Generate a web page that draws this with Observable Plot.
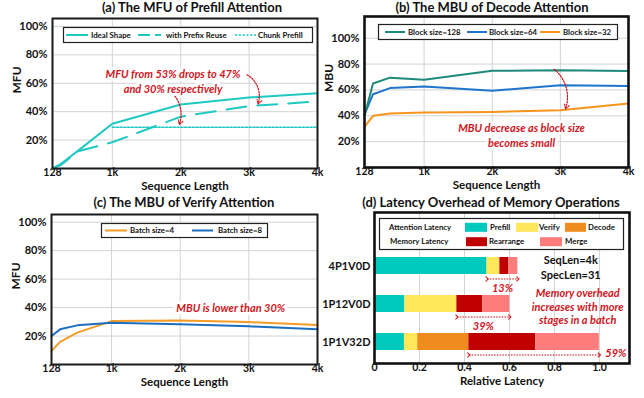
<!DOCTYPE html>
<html><head><meta charset="utf-8">
<script src="https://cdn.jsdelivr.net/npm/d3@7"></script>
<script src="https://cdn.jsdelivr.net/npm/@observablehq/plot@0.6"></script>
<style>
body{margin:0;background:#fff;}
#root{position:relative;width:644px;height:398px;overflow:hidden;font-family:Lato,"Open Sans",sans-serif;color:#111;}
.title{position:absolute;font-weight:bold;font-size:13px;white-space:nowrap;transform:translate(-50%,-50%);line-height:1;}
.panel{position:absolute;}
.legend{position:absolute;}
</style></head>
<body><div id="root"></div>
<script>
// ---------- data ----------
const seqLen = [128, 256, 512, 1024, 2048, 3072, 4096];
const seqTicks = [128, 1024, 2048, 3072, 4096];
const seqTickLabels = ["128", "1k", "2k", "3k", "4k"];
const seqGrid = [1024, 2048, 3072];
const pctTicks = [20, 40, 60, 80, 100];

// (a) MFU of prefill attention (%)
const idealShape = [0, 3.3, 12.6, 31.5, 45, 50, 53];
const prefixReuse = [0, 2.5, 12.2, 18.5, 36.5, 44, 47.2];
const chunkSeqLen = [1024, 2048, 3072, 4096];
const chunkPrefill = [29, 29, 29, 29];

// (b) MBU of decode attention (%)
const block128 = [40, 65, 69.5, 67.8, 74.8, 75.3, 74.6];
const block64 = [41, 56.7, 61.4, 62.6, 59.3, 63.7, 63];
const block32 = [31.5, 40, 41.7, 42.5, 43, 44.3, 49.5];

// (c) MBU of verify attention (%)
const batch4 = [9.6, 15.9, 22.4, 30.5, 31, 29.8, 27.7];
const batch8 = [20, 24.7, 27.5, 29.3, 28.2, 26.8, 24.7];

// (d) relative latency
const configs = ["4P1V0D", "1P12V0D", "1P1V32D"];
const stages = ["Prefill", "Verify", "Decode", "Rearrange", "Merge"];
const stageColors = ["#00C9BE", "#FFE75C", "#EF8C1E", "#C00000", "#FF7C7C"];
const prefillLat = [0.5, 0.135, 0.133];
const verifyLat = [0.057, 0.231, 0.059];
const decodeLat = [0, 0, 0.227];
const rearrangeLat = [0.04, 0.115, 0.298];
const mergeLat = [0.04, 0.12, 0.282];
const latTicks = [0, 0.2, 0.4, 0.6, 0.8, 1.0];
const overheadFrom = [0.5, 0.366, 0.419];
const overheadTo = [0.637, 0.601, 0.999];
const overheadLabels = ["13%", "39%", "59%"];

// annotations (data coordinates)
const notesA = [{text: "MFU from 53% drops to 47%\nand 30% respectively", x: 1932, y: 61.7}];
const arrowsA = [{x1: 3040, y1: 66, x2: 3205, y2: 45.4}, {x1: 1826, y1: 56.5, x2: 2027, y2: 31}];
const notesB = [{text: "MBU decrease as block size\nbecomes small", x: 2488, y: 25.2}];
const arrowsB = [{x1: 2979, y1: 76, x2: 3149, y2: 45.3}];
const notesC = [{text: "MBU is lower than 30%", x: 2801, y: 40}];

// ---------- styles ----------
const RED = "#D0161E";
const GRID = "#d3d3d3";
const FONT = "Lato, 'Open Sans', sans-serif";
const TEAL = "#20C8C2";
const seqLabel = new Map(seqTicks.map((d, i) => [d, seqTickLabels[i]]));
const toRows = (xs, ys) => xs.map((x, i) => ({x, y: ys[i]}));

const root = document.getElementById("root");
function place(el, left, top) {
  el.style.position = "absolute"; el.style.left = left + "px"; el.style.top = top + "px";
  root.appendChild(el);
}
function title(text, cx, cy) {
  const d = document.createElement("div"); d.className = "title"; d.textContent = text;
  d.style.left = cx + "px"; d.style.top = cy + "px"; root.appendChild(d);
}

function seqAxes(yLabel) {
  return [
    Plot.gridX(seqGrid, {stroke: GRID, strokeOpacity: 1}),
    Plot.gridY(pctTicks, {stroke: GRID, strokeOpacity: 1}),
    Plot.axisX(seqTicks, {tickFormat: d => seqLabel.get(d), tickSize: 0, tickPadding: 0, label: null, fontSize: 10.5, fontWeight: "bold"}),
    Plot.axisY(pctTicks, {tickFormat: d => d + "%", tickSize: 0, tickPadding: 5, label: null, fontSize: 11, fontWeight: "bold"}),
    Plot.text(["Sequence Length"], {text: d => d, frameAnchor: "bottom", dy: 21, fontSize: 11.5, fontWeight: "bold"}),
    Plot.text([yLabel], {text: d => d, frameAnchor: "left", dx: -35, rotate: -90, fontSize: 12, fontWeight: "bold"})
  ];
}
const noteMark = (notes) => Plot.text(notes, {x: "x", y: "y", text: "text", fill: RED, fontSize: 11, fontWeight: "bold", fontStyle: "italic", lineHeight: 1.3, stroke: "white", strokeWidth: 6, paintOrder: "stroke"});
const arrowMark = (arrows, bend) => Plot.arrow(arrows, {x1: "x1", y1: "y1", x2: "x2", y2: "y2", bend, stroke: RED, strokeWidth: 1.2, strokeDasharray: "1.6,1.4", headLength: 6});
const baseStyle = {fontFamily: FONT, fontWeight: "bold", fontSize: "11px", color: "#111", background: "transparent", overflow: "visible"};

// ---------- (a) ----------
const plotA = Plot.plot({
  width: 322, height: 184, marginLeft: 52, marginRight: 5, marginTop: 4, marginBottom: 30,
  style: baseStyle,
  x: {type: "linear", domain: [128, 4096]},
  y: {domain: [0, 105.6]},
  marks: [
    ...seqAxes("MFU"),
    Plot.line(toRows(chunkSeqLen, chunkPrefill), {x: "x", y: "y", stroke: TEAL, strokeWidth: 1.6, strokeDasharray: "2.2,1.6"}),
    Plot.line(toRows(seqLen, prefixReuse), {x: "x", y: "y", stroke: TEAL, strokeWidth: 2, strokeDasharray: "20,11"}),
    Plot.line(toRows(seqLen, idealShape), {x: "x", y: "y", stroke: TEAL, strokeWidth: 2}),
    arrowMark(arrowsA, 40),
    noteMark(notesA),
    Plot.frame({stroke: "#1a1a1a", strokeWidth: 2})
  ]
});
place(plotA, 0, 14);

// ---------- (b) ----------
const plotB = Plot.plot({
  width: 322, height: 184, marginLeft: 42, marginRight: 16, marginTop: 2, marginBottom: 31,
  style: baseStyle,
  x: {type: "linear", domain: [128, 4096]},
  y: {domain: [0, 116.8]},
  marks: [
    ...seqAxes("MBU"),
    noteMark(notesB),
    Plot.line(toRows(seqLen, block32), {x: "x", y: "y", stroke: "#F7941D", strokeWidth: 2}),
    Plot.line(toRows(seqLen, block64), {x: "x", y: "y", stroke: "#1F74CC", strokeWidth: 2}),
    Plot.line(toRows(seqLen, block128), {x: "x", y: "y", stroke: "#1E8A7A", strokeWidth: 2}),
    arrowMark(arrowsB, 35),
    Plot.frame({stroke: "#111", strokeWidth: 2.6})
  ]
});
place(plotB, 322, 14);

// ---------- (c) ----------
const plotC = Plot.plot({
  width: 322, height: 186, marginLeft: 51, marginRight: 5, marginTop: 2, marginBottom: 34,
  style: baseStyle,
  x: {type: "linear", domain: [128, 4096]},
  y: {domain: [0, 105.4]},
  marks: [
    ...seqAxes("MFU"),
    noteMark(notesC),
    Plot.line(toRows(seqLen, batch4), {x: "x", y: "y", stroke: "#F39C26", strokeWidth: 2}),
    Plot.line(toRows(seqLen, batch8), {x: "x", y: "y", stroke: "#1C6FC0", strokeWidth: 2}),
    Plot.frame({stroke: "#1a1a1a", strokeWidth: 2})
  ]
});
place(plotC, 0, 212);

// ---------- (d) ----------
const latSeries = [prefillLat, verifyLat, decodeLat, rearrangeLat, mergeLat];
const latRows = configs.flatMap((c, i) => stages.map((s, j) => ({config: c, stage: s, value: latSeries[j][i]})));
const overheadRows = configs.map((c, i) => ({config: c, from: overheadFrom[i], to: overheadTo[i], label: overheadLabels[i], mid: (overheadFrom[i] + overheadTo[i]) / 2}));
const plotD = Plot.plot({
  width: 322, height: 186, marginLeft: 52, marginRight: 15, marginTop: 2, marginBottom: 33,
  style: baseStyle,
  x: {domain: [0, 1.133]},
  y: {type: "band", domain: configs, range: [35.8, 150.8], paddingInner: 0.55, paddingOuter: 0.275},
  color: {domain: stages, range: stageColors},
  marks: [
    Plot.gridX(latTicks.slice(1), {stroke: GRID, strokeOpacity: 1}),
    Plot.barX(latRows, Plot.stackX({x: "value", y: "config", fill: "stage"})),
    Plot.axisX(latTicks, {tickFormat: d => d === 0 ? "0" : d.toFixed(1), tickSize: 0, tickPadding: 0, label: null, fontSize: 10.5, fontWeight: "bold"}),
    Plot.axisY({tickSize: 0, tickPadding: 4, label: null, fontSize: 11, fontWeight: "bold"}),
    Plot.text(["Relative Latency"], {text: d => d, frameAnchor: "bottom", dy: 21, fontSize: 11.5, fontWeight: "bold"}),
    Plot.link(overheadRows, {x1: "from", x2: "to", y1: "config", y2: "config", dy: 13, stroke: RED, strokeWidth: 1.1, strokeDasharray: "1.6,1.2", markerStart: "arrow", markerEnd: "arrow"}),
    Plot.text(overheadRows.slice(0, 2), {x: "mid", y: "config", text: "label", dy: 22, fill: RED, fontSize: 11, fontStyle: "italic", fontWeight: "bold"}),
    Plot.text(overheadRows.slice(2), {x: "to", y: "config", text: "label", dx: 6, dy: 11, textAnchor: "start", fill: RED, fontSize: 11, fontStyle: "italic", fontWeight: "bold"}),
    Plot.text([{text: "SeqLen=4k\nSpecLen=31", x: 0.872, config: "4P1V0D"}], {x: "x", y: "config", text: "text", dy: 1, fontSize: 11, fontWeight: "bold", lineHeight: 1.35}),
    Plot.text([{text: "Memory overhead\nincreases with more\nstages in a batch", x: 0.903, config: "1P12V0D"}], {x: "x", y: "config", text: "text", dy: 2.5, fill: RED, fontSize: 11, fontWeight: "bold", fontStyle: "italic", lineHeight: 1.22}),
    Plot.frame({stroke: "#111", strokeWidth: 2.6})
  ]
});
place(plotD, 322, 210);

// ---------- titles ----------
title("(a) The MFU of Prefill Attention", 192, 7);
title("(b) The MBU of Decode Attention", 492, 7);
title("(c) The MBU of Verify Attention", 184, 202);
title("(d) Latency Overhead of Memory Operations", 491, 202);

// ---------- legends ----------
function legend(left, top, w, h, items) {
  const svg = d3.create("svg").attr("width", w).attr("height", h).style("background", "#fff").style("overflow", "visible");
  svg.append("rect").attr("x", 0.5).attr("y", 0.5).attr("width", w - 1).attr("height", h - 1).attr("fill", "#fff").attr("stroke", "#222").attr("stroke-width", 1.2);
  for (const it of items) {
    if (it.line) svg.append("line").attr("x1", it.x).attr("x2", it.x + it.w).attr("y1", it.y).attr("y2", it.y)
      .attr("stroke", it.color).attr("stroke-width", it.sw || 2).attr("stroke-dasharray", it.dash || null);
    if (it.rect) svg.append("rect").attr("x", it.x).attr("y", it.y - it.h / 2).attr("width", it.w).attr("height", it.h).attr("fill", it.color);
    if (it.text) svg.append("text").attr("x", it.tx).attr("y", it.y).attr("dy", "0.35em").text(it.text)
      .attr("font-family", FONT).attr("font-size", it.fs || 7.8).attr("font-weight", "bold").attr("fill", "#111");
  }
  const n = svg.node(); n.classList.add("legend"); place(n, left, top);
}
legend(63, 27, 250, 16, [
  {line: 1, x: 3, w: 22, y: 8, color: TEAL, text: "Ideal Shape", tx: 28},
  {line: 1, x: 75, w: 23, y: 8, color: TEAL, dash: "12,5", text: "with Prefix Reuse", tx: 103},
  {line: 1, x: 172, w: 21, y: 8, color: TEAL, sw: 1.6, dash: "2.2,1.6", text: "Chunk Prefill", tx: 195}
]);
legend(378, 24, 240, 16, [
  {line: 1, x: 7, w: 20, y: 8, color: "#1E8A7A", text: "Block size=128", tx: 30},
  {line: 1, x: 89, w: 20, y: 8, color: "#1F74CC", text: "Block size=64", tx: 111},
  {line: 1, x: 162, w: 20, y: 8, color: "#F7941D", text: "Block size=32", tx: 185}
]);
legend(101, 223, 167, 15, [
  {line: 1, x: 4, w: 22, y: 7.5, color: "#F39C26", text: "Batch size=4", tx: 29},
  {line: 1, x: 91, w: 21, y: 7.5, color: "#1C6FC0", text: "Batch size=8", tx: 117}
]);
legend(379, 218, 245, 32, [
  {text: "Attention Latency", tx: 10, y: 9.3},
  {rect: 1, x: 86, w: 22, h: 9, y: 9.3, color: stageColors[0], text: "Prefill", tx: 111},
  {rect: 1, x: 137, w: 22, h: 9, y: 9.3, color: stageColors[1], text: "Verify", tx: 160},
  {rect: 1, x: 186, w: 21, h: 9, y: 9.3, color: stageColors[2], text: "Decode", tx: 209},
  {text: "Memory Latency", tx: 11, y: 23.7},
  {rect: 1, x: 87, w: 21, h: 9, y: 23.7, color: stageColors[3], text: "Rearrange", tx: 110},
  {rect: 1, x: 161, w: 22, h: 9, y: 23.7, color: stageColors[4], text: "Merge", tx: 186}
]);
</script></body></html>
